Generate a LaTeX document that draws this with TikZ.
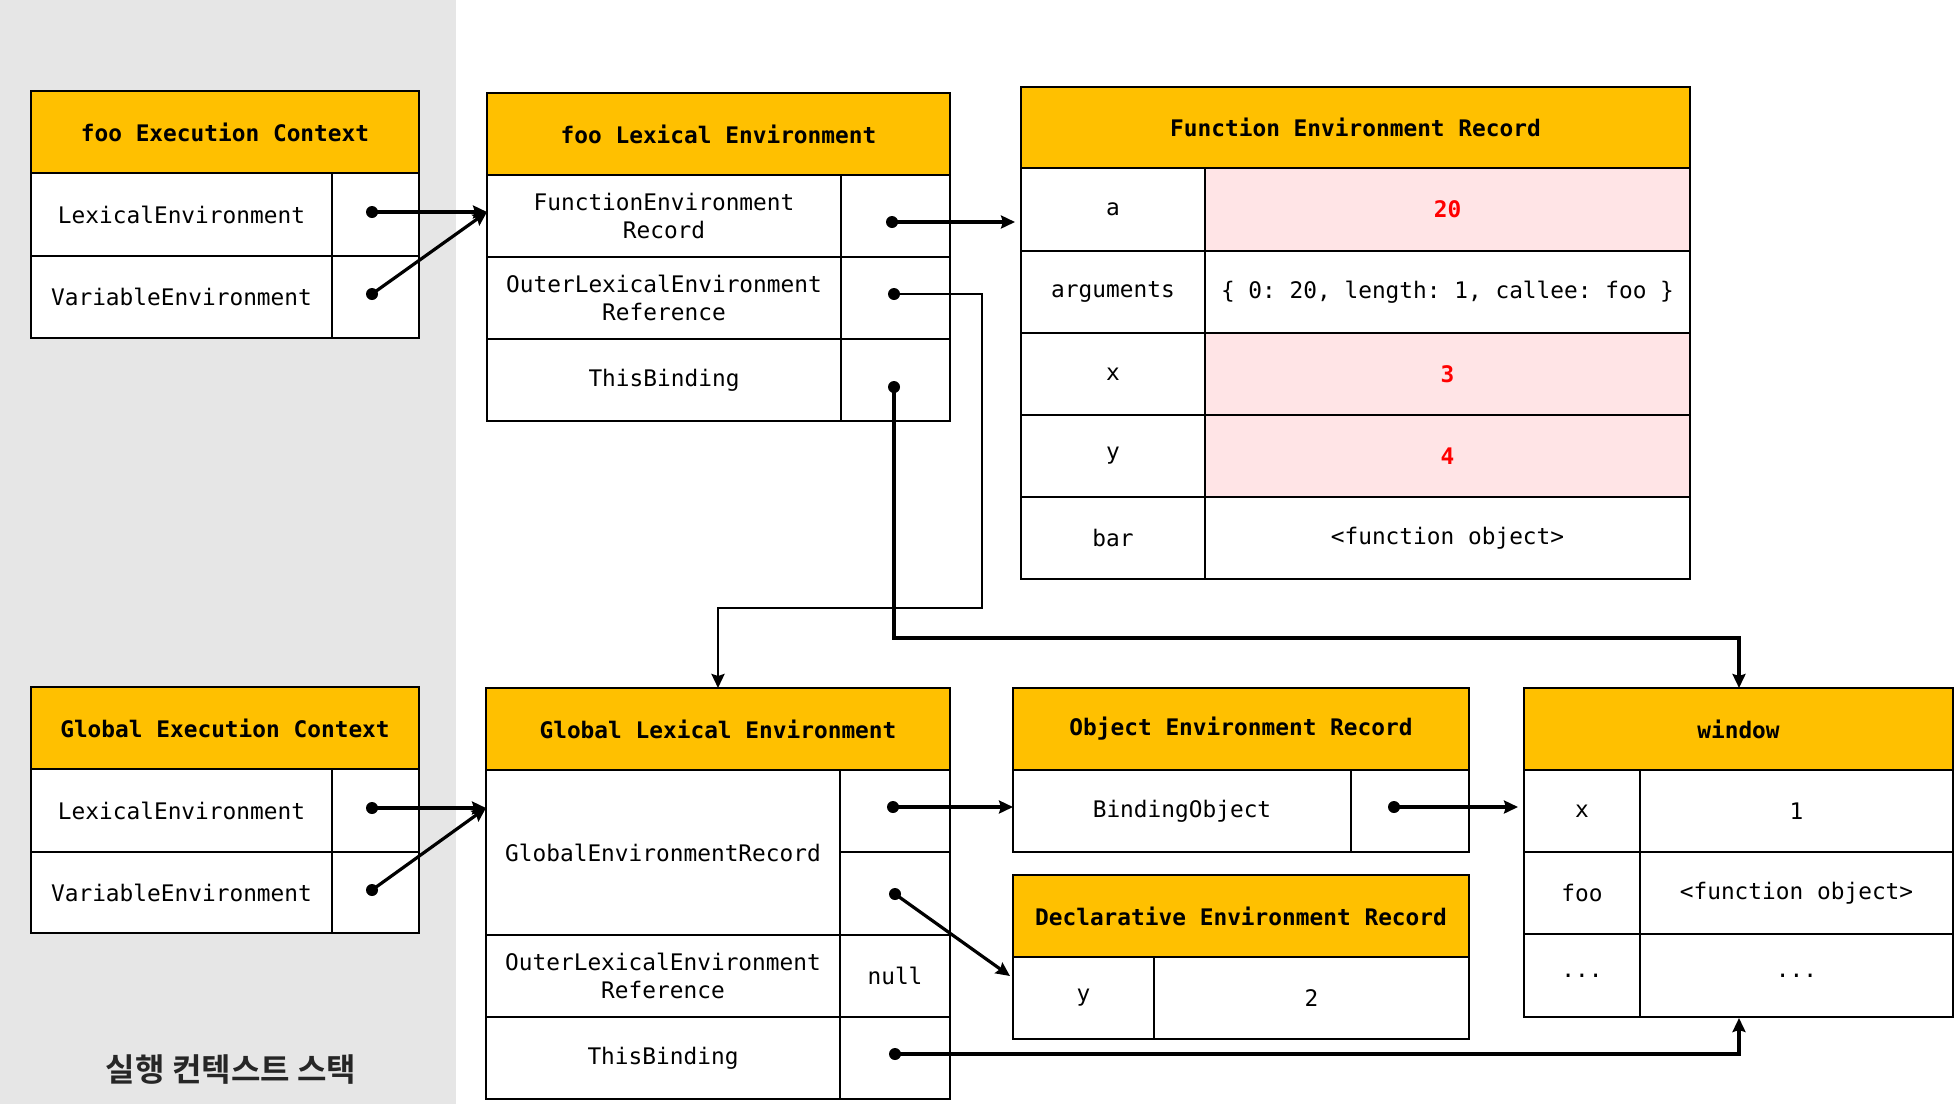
\documentclass[tikz,border=0pt]{standalone}
\usepackage{fontspec}
\setmonofont{DejaVu Sans Mono}
\newfontfamily\kr{Noto Sans CJK KR}[BoldFont={Noto Sans CJK KR Bold}]
\usetikzlibrary{arrows.meta,calc}
\definecolor{hdr}{HTML}{FFC000}
\definecolor{pinkbg}{HTML}{FFE4E6}
\definecolor{stackbg}{HTML}{E6E6E6}
\definecolor{valred}{HTML}{FF0000}
\tikzset{
  box/.style={draw=black, line width=1pt, inner sep=0pt, outer sep=0pt, align=center, fill=white,
    font=\ttfamily\fontsize{11.4}{14}\selectfont},
  hdrbox/.style={box, fill=hdr, font=\ttfamily\bfseries\fontsize{11.4}{14}\selectfont},
  pinkbox/.style={box, fill=pinkbg, text=valred, font=\ttfamily\bfseries\fontsize{11.4}{14}\selectfont},
  conn/.style={line width=1.6pt, -{Stealth[length=7pt,width=6.5pt,inset=1pt]}},
}
\newcommand\cellbox[7]{%
  \pgfmathsetmacro\cw{(#4-#2)*0.5}\pgfmathsetmacro\ch{(#5-#3)*0.5}%
  \node[#6, minimum width=\cw pt, minimum height=\ch pt] (#1) at ({(#2+#4)/2},{(#3+#5)/2}) {#7};}
\newcommand\dotat[1]{\fill (#1) circle[radius=3pt];}
\begin{document}
\begin{tikzpicture}[x=0.5pt,y=-0.5pt]
\useasboundingbox (0,0) rectangle (1954,1104);
\fill[white] (0,0) rectangle (1954,1104);
\fill[stackbg] (0,0) rectangle (456,1104);

% foo Execution Context
\cellbox{fecH}{31}{91}{419}{173}{hdrbox}{foo Execution Context}
\cellbox{fecK1}{31}{173}{332}{256}{box}{LexicalEnvironment}
\cellbox{fecV1}{332}{173}{419}{256}{box}{}
\cellbox{fecK2}{31}{256}{332}{338}{box}{VariableEnvironment}
\cellbox{fecV2}{332}{256}{419}{338}{box}{}

% foo Lexical Environment
\cellbox{fleH}{487}{93}{950}{175}{hdrbox}{foo Lexical Environment}
\cellbox{fleK1}{487}{175}{841}{257}{box}{FunctionEnvironment\\Record}
\cellbox{fleV1}{841}{175}{950}{257}{box}{}
\cellbox{fleK2}{487}{257}{841}{339}{box}{OuterLexicalEnvironment\\Reference}
\cellbox{fleV2}{841}{257}{950}{339}{box}{}
\cellbox{fleK3}{487}{339}{841}{421}{box}{ThisBinding}
\cellbox{fleV3}{841}{339}{950}{421}{box}{}

% Function Environment Record
\cellbox{ferH}{1021}{87}{1690}{168}{hdrbox}{Function Environment Record}
\cellbox{ferK1}{1021}{168}{1205}{251}{box}{a}
\cellbox{ferV1}{1205}{168}{1690}{251}{pinkbox}{20}
\cellbox{ferK2}{1021}{251}{1205}{333}{box}{arguments}
\cellbox{ferV2}{1205}{251}{1690}{333}{box}{\{ 0: 20, length: 1, callee: foo \}}
\cellbox{ferK3}{1021}{333}{1205}{415}{box}{x}
\cellbox{ferV3}{1205}{333}{1690}{415}{pinkbox}{3}
\cellbox{ferK4}{1021}{415}{1205}{497}{box}{y}
\cellbox{ferV4}{1205}{415}{1690}{497}{pinkbox}{4}
\cellbox{ferK5}{1021}{497}{1205}{579}{box}{bar}
\cellbox{ferV5}{1205}{497}{1690}{579}{box}{<function object>}

% Global Execution Context
\cellbox{gecH}{31}{687}{419}{769}{hdrbox}{Global Execution Context}
\cellbox{gecK1}{31}{769}{332}{852}{box}{LexicalEnvironment}
\cellbox{gecV1}{332}{769}{419}{852}{box}{}
\cellbox{gecK2}{31}{852}{332}{933}{box}{VariableEnvironment}
\cellbox{gecV2}{332}{852}{419}{933}{box}{}

% Global Lexical Environment
\cellbox{gleH}{486}{688}{950}{770}{hdrbox}{Global Lexical Environment}
\cellbox{gleK1}{486}{770}{840}{935}{box}{GlobalEnvironmentRecord}
\cellbox{gleV1a}{840}{770}{950}{852}{box}{}
\cellbox{gleV1b}{840}{852}{950}{935}{box}{}
\cellbox{gleK2}{486}{935}{840}{1017}{box}{OuterLexicalEnvironment\\Reference}
\cellbox{gleV2}{840}{935}{950}{1017}{box}{null}
\cellbox{gleK3}{486}{1017}{840}{1099}{box}{ThisBinding}
\cellbox{gleV3}{840}{1017}{950}{1099}{box}{}

% Object Environment Record
\cellbox{oerH}{1013}{688}{1469}{770}{hdrbox}{Object Environment Record}
\cellbox{oerK1}{1013}{770}{1351}{852}{box}{BindingObject}
\cellbox{oerV1}{1351}{770}{1469}{852}{box}{}

% Declarative Environment Record
\cellbox{derH}{1013}{875}{1469}{957}{hdrbox}{Declarative Environment Record}
\cellbox{derK1}{1013}{957}{1154}{1039}{box}{y}
\cellbox{derV1}{1154}{957}{1469}{1039}{box}{2}

% window
\cellbox{winH}{1524}{688}{1953}{770}{hdrbox}{window}
\cellbox{winK1}{1524}{770}{1640}{852}{box}{x}
\cellbox{winV1}{1640}{770}{1953}{852}{box}{1}
\cellbox{winK2}{1524}{852}{1640}{934}{box}{foo}
\cellbox{winV2}{1640}{852}{1953}{934}{box}{<function object>}
\cellbox{winK3}{1524}{934}{1640}{1017}{box}{...}
\cellbox{winV3}{1640}{934}{1953}{1017}{box}{...}

% caption
\node[font=\kr\bfseries\fontsize{16}{19}\selectfont, text=black!85] (cap) at (231,1069) {실행 컨텍스트 스택};

% pointer coordinates
\coordinate (pFecLE) at (372,212);
\coordinate (pFecVE) at (372,294);
\coordinate (inFle) at (487,212);
\coordinate (pFleFER) at (892,222);
\coordinate (pFleOLE) at (894,294);
\coordinate (pFleTB) at (894,387);
\coordinate (inFer) at (1015,222);
\coordinate (pGecLE) at (372,808);
\coordinate (pGecVE) at (372,890);
\coordinate (inGle) at (486,808);
\coordinate (pGleOER) at (893,807);
\coordinate (pGleDER) at (895,894);
\coordinate (inDer) at (1010,976);
\coordinate (pGleTB) at (895,1054);
\coordinate (pOerBO) at (1394,807);

% dots
\dotat{pFecLE}\dotat{pFecVE}\dotat{pFleFER}\dotat{pFleOLE}\dotat{pFleTB}
\dotat{pGecLE}\dotat{pGecVE}\dotat{pGleOER}\dotat{pGleDER}\dotat{pGleTB}\dotat{pOerBO}

% connectors
\draw[conn] (pFecLE) -- (inFle);
\draw[conn] (pFecVE) -- (inFle);
\draw[conn] (pFleFER) -- (inFer);
\draw[conn, line width=1.3pt] (pFleOLE) -- (982,294) -- (982,608) -- (718,608) -- (gleH.north);
\draw[conn] (pFleTB) -- (894,638) -- (1739,638) -- (1739,688);
\draw[conn] (pGecLE) -- (inGle);
\draw[conn] (pGecVE) -- (inGle);
\draw[conn] (pGleOER) -- (pGleOER -| oerK1.west);
\draw[conn] (pGleDER) -- (inDer);
\draw[conn] (pOerBO) -- (1518,807);
\draw[conn] (pGleTB) -- (1739,1054) -- (1739,1018);
\end{tikzpicture}
\end{document}
